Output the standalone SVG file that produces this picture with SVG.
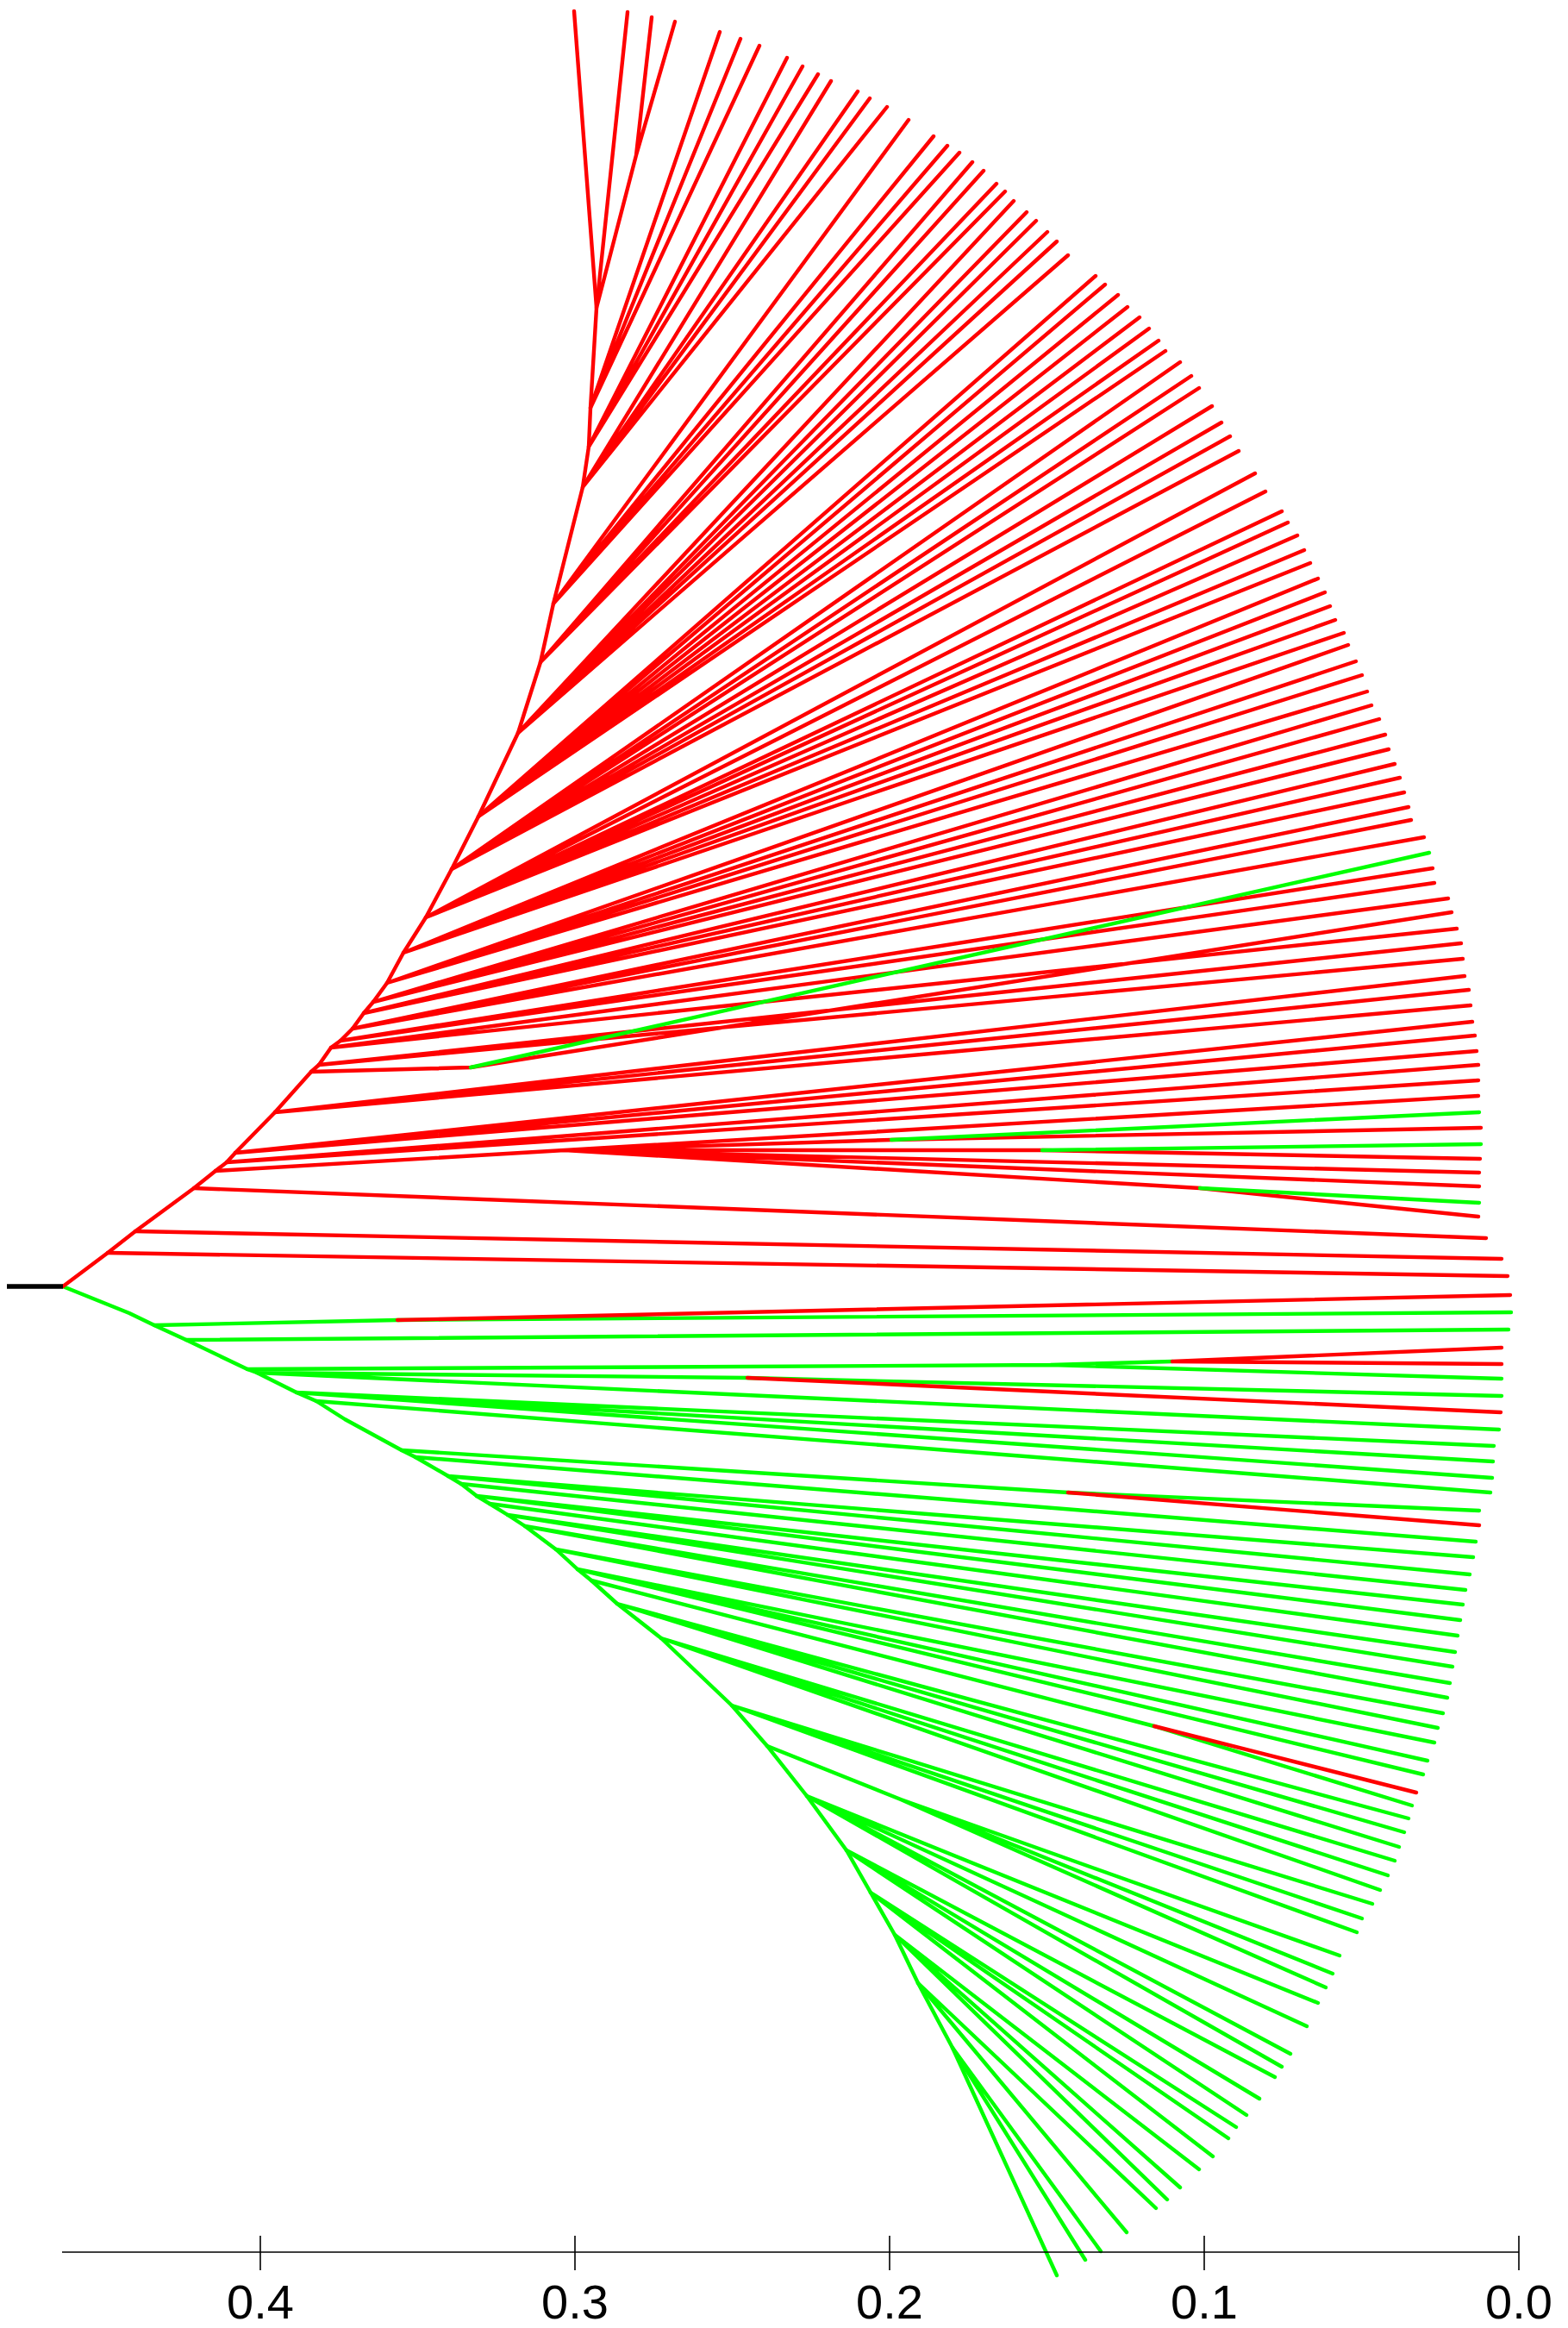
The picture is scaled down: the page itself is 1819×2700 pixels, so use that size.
<svg xmlns="http://www.w3.org/2000/svg" width="1819" height="2700" viewBox="0 0 1819 2700">
<style>
.e{fill:none;stroke-width:4.4;stroke-linecap:round;stroke-linejoin:round}
.r{stroke:#ff0000}
.g{stroke:#00ff00}
.ax{stroke:#000;stroke-width:1.6;fill:none}
.lbl{font-family:"Liberation Sans",Arial,sans-serif;font-size:56px;fill:#000;text-anchor:middle}
</style>
<rect width="1819" height="2700" fill="#fff"/>
<g id="connectors">
<g id="green-clade">
<path class="e g" d="M73,1492 L150,1523 L179,1537 L216,1554 L287,1588 L298,1592 L344,1615 L367,1625 L400,1646 L466,1682 L482,1690 L520,1712 L535,1721 L553,1735 L568,1744 L589,1757 L609,1770 L645,1797 L670,1820 L686,1833 L716,1860 L767,1900 L849,1978 L890,2025 L936,2083 L982,2146 L1010,2195 L1038,2244 L1065,2300 L1105,2375 L1226,2639"/>
<path class="e g" d="M179,1537 L461,1531 L1753,1522
M216,1554 L1750,1542
M287,1588 L1219,1583 L1742,1599 M1219,1583 L1360,1579
M298,1592 L867,1598 L1742,1619 M298,1592 L1739,1658
M344,1615 L1733,1677 M344,1615 L1732,1695 M344,1615 L1731,1714
M367,1625 L1729,1731
M466,1682 L1239,1731 L1716,1752
M482,1690 L1712,1788
M520,1712 L1709,1806 M520,1712 L1705,1826
M535,1721 L1700,1844
M553,1735 L1697,1861 M553,1735 L1694,1879
M568,1744 L1691,1897
M589,1757 L1688,1916 M589,1757 L1685,1933
M609,1770 L1682,1952 M609,1770 L1679,1969
M645,1797 L1674,1987 M645,1797 L1668,2004
M670,1820 L1664,2021 M670,1820 L1656,2042 M670,1820 L1651,2058
M686,1833 L1339,2002 L1638,2094
M716,1860 L1634,2109 M716,1860 L1629,2125 M716,1860 L1623,2142
M767,1900 L1618,2158 M767,1900 L1610,2175 M767,1900 L1601,2192
M849,1978 L1592,2208 M849,1978 L1580,2225 M849,1978 L1574,2241
M890,2025 L1045,2087 L1554,2268 M1045,2087 L1546,2289 M1045,2087 L1538,2305
M936,2083 L1529,2323 M936,2083 L1516,2350 M936,2083 L1497,2382 M936,2083 L1487,2397
M982,2146 L1479,2409 M982,2146 L1461,2434 M982,2146 L1446,2453
M1010,2195 L1434,2467 M1010,2195 L1425,2480 M1010,2195 L1407,2501
M1038,2244 L1391,2516 M1038,2244 L1369,2537 M1038,2244 L1354,2551
M1065,2300 L1341,2561 M1065,2300 L1307,2589
M1105,2375 L1277,2611 M1105,2375 L1259,2621"/>
<path class="e r" d="M461,1531 L1752,1502
M1360,1579 L1742,1563 M1360,1579 L1742,1582
M867,1598 L1741,1638
M1239,1731 L1716,1769
M1339,2002 L1643,2079"/>
</g>
<g id="red-clade">
<path class="e r" d="M73,1492 L125,1453 L157,1428 L225,1378 L250,1358 L263,1348 L273,1337 L319,1290 L361,1243 L370,1235 L384,1215 L395,1207 L409,1193 L422,1175 L433,1162 L449,1140 L468,1105 L494,1064 L524,1008 L555,947 L601,850 L627,768 L642,700 L676,565 L683,518 L685,473 L692,357 L666,13"/>
<path class="e r" d="M692,357 L728,14 M692,357 L738,180 L756,20 M738,180 L783,25
M685,473 L835,37 M685,473 L859,45 M685,473 L881,53
M683,518 L913,67 M683,518 L931,77 M683,518 L949,86
M676,565 L964,94 M676,565 L995,106 M676,565 L1009,114 M676,565 L1029,124
M642,700 L1054,139 M642,700 L1083,158 M642,700 L1099,169 M642,700 L1113,177
M627,768 L1128,188 M627,768 L1141,198 M627,768 L1156,213 M627,768 L1166,222
M601,850 L1176,233 M601,850 L1191,246 M601,850 L1202,256 M601,850 L1215,269 M601,850 L1226,280 M601,850 L1239,296
M555,947 L1271,320 M555,947 L1282,330 M555,947 L1297,342 M555,947 L1308,356 M555,947 L1322,368 M555,947 L1333,381 M555,947 L1344,395 M555,947 L1352,407
M524,1008 L1369,420 M524,1008 L1382,436 M524,1008 L1391,450 M524,1008 L1406,471 M524,1008 L1417,490 M524,1008 L1427,506 M524,1008 L1437,523
M494,1064 L1456,549 M494,1064 L1468,570 M494,1064 L1487,593 M494,1064 L1494,606 M494,1064 L1505,621 M494,1064 L1513,638 M494,1064 L1520,653
M468,1105 L1529,671 M468,1105 L1537,687 M468,1105 L1543,703 M468,1105 L1549,719 M468,1105 L1559,734
M449,1140 L1564,748 M449,1140 L1573,767 M449,1140 L1580,783 M449,1140 L1586,802
M433,1162 L1591,818 M433,1162 L1600,834 M433,1162 L1607,852 M433,1162 L1611,869
M422,1175 L1618,886 M422,1175 L1624,902 M422,1175 L1629,919
M409,1193 L1634,936 M409,1193 L1637,951 M409,1193 L1652,971
M395,1207 L1662,1007 M395,1207 L1664,1024
M384,1215 L1680,1042 M384,1215 L1690,1077
M370,1235 L1695,1094 M370,1235 L1697,1112
M361,1243 L546,1238 L1684,1058
M319,1290 L1699,1132 M319,1290 L1704,1148 M319,1290 L1706,1166
M273,1337 L1708,1185 M273,1337 L1711,1201 M273,1337 L1713,1219
M263,1348 L1715,1235 M263,1348 L1715,1253
M250,1358 L655,1334 L1715,1271
M655,1334 L1034,1322 L1718,1308
M655,1334 L1209,1334 L1717,1344
M655,1334 L1716,1360 M655,1334 L1716,1376
M655,1334 L1392,1378 L1715,1411
M225,1378 L1724,1436
M157,1428 L1742,1460
M125,1453 L1749,1480"/>
<path class="e g" d="M546,1238 L1658,989
M1034,1322 L1716,1290
M1209,1334 L1718,1327
M1392,1378 L1716,1395"/>
</g>
<line id="root" x1="8" y1="1492" x2="73" y2="1492" stroke="#000" stroke-width="5.5"/>
</g>
<g id="axis">
<path class="ax" d="M72,2612 H1762 M302,2593 V2633 M667,2593 V2633 M1032,2593 V2633 M1397,2593 V2633 M1762,2593 V2633"/>
<text class="lbl" x="302" y="2689">0.4</text>
<text class="lbl" x="667" y="2689">0.3</text>
<text class="lbl" x="1032" y="2689">0.2</text>
<text class="lbl" x="1397" y="2689">0.1</text>
<text class="lbl" x="1762" y="2689">0.0</text>
</g>
</svg>
